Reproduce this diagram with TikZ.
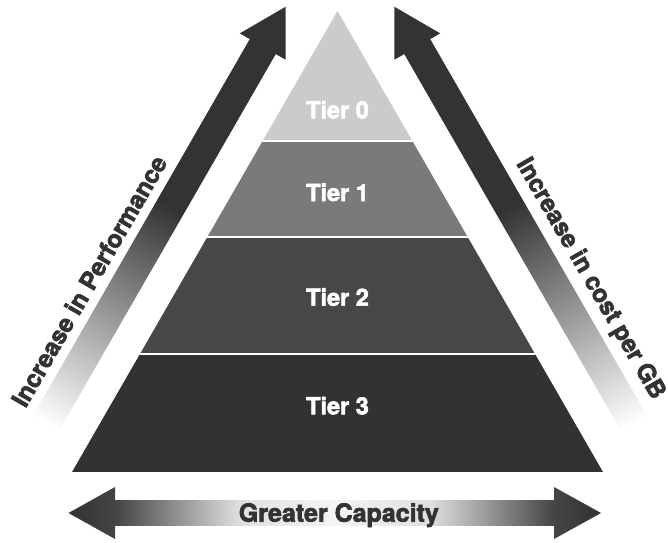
\documentclass[tikz,border=0pt]{standalone}
\usepackage{fontspec}
\setmainfont{TeX Gyre Heros}[BoldFeatures={FakeBold=2.5}]
\definecolor{dk}{HTML}{333333}
\definecolor{c44}{HTML}{444444}
\definecolor{ce0}{HTML}{E0E0E0}
\definecolor{cf4}{HTML}{F4F4F4}
\definecolor{tzero}{HTML}{CBCBCB}
\definecolor{tone}{HTML}{7A7A7A}
\definecolor{ttwo}{HTML}{464746}
\definecolor{tthree}{HTML}{313231}
\pgfdeclarehorizontalshading{diagshade}{100bp}{color(0bp)=(white); color(25bp)=(white); color(51bp)=(dk); color(75bp)=(dk); color(100bp)=(dk)}
\pgfdeclarehorizontalshading{capshade}{100bp}{color(0bp)=(dk); color(25bp)=(dk); color(29.37bp)=(c44); color(41.1bp)=(ce0); color(50bp)=(cf4); color(58.9bp)=(ce0); color(70.63bp)=(c44); color(75bp)=(dk); color(100bp)=(dk)}
\tikzset{
  tierlabel/.style={text=white, font=\fontsize{23.5}{28}\selectfont\bfseries, inner sep=0pt, anchor=base},
  arrowlabel/.style={text=dk, font=\fontsize{24.5}{29}\selectfont\bfseries, inner sep=0pt},
}
\begin{document}
\begin{tikzpicture}[x=1pt,y=1pt]
\useasboundingbox[fill=white] (0,0) rectangle (668,542);
% pyramid
\begin{scope}
\clip (72,70) -- (337.5,531) -- (603,70) -- cycle;
\fill[tthree] (0,70) rectangle (668,188);
\fill[ttwo] (0,188) rectangle (668,305);
\fill[tone] (0,305) rectangle (668,401);
\fill[tzero] (0,401) rectangle (668,531);
\draw[white, line width=2.5] (0,188) -- (668,188);
\draw[white, line width=2.5] (0,305) -- (668,305);
\draw[white, line width=2.5] (0,401) -- (668,401);
\end{scope}
\node[tierlabel] (t0) at (337.5,423.7) {Tier 0};
\node[tierlabel] (t1) at (337.5,341) {Tier 1};
\node[tierlabel] (t2) at (337.5,236.3) {Tier 2};
\node[tierlabel] (t3) at (337.5,127.7) {Tier 3};
% left diagonal arrow
\begin{scope}[transform canvas={shift={(45.8pt,118.4pt)},rotate=60.08}]
\shade[shading=diagshade] (0,-15) -- (435,-15) -- (435,-26.5) -- (481,0) -- (435,26.5) -- (435,15) -- (0,15) -- cycle;
\end{scope}
% right diagonal arrow
\begin{scope}[transform canvas={shift={(634.2pt,118.4pt)},rotate=119.92}]
\shade[shading=diagshade] (0,-15) -- (435,-15) -- (435,-26.5) -- (481,0) -- (435,26.5) -- (435,15) -- (0,15) -- cycle;
\end{scope}
\node[arrowlabel, rotate=60] (perf) at (89,261) {Increase in Performance};
\node[arrowlabel, rotate=-60] (cost) at (590,263) {Increase in cost per GB};
% bottom double arrow
\shade[shading=capshade] (68.5,29) -- (115,55) -- (115,41.8) -- (554,41.8) -- (554,55) -- (601,29) -- (554,3) -- (554,16.2) -- (115,16.2) -- (115,3) -- cycle;
\node[arrowlabel, anchor=base, font=\fontsize{25}{30}\selectfont\bfseries] (cap) at (338.8,20.3) {Greater Capacity};
\end{tikzpicture}
\end{document}
